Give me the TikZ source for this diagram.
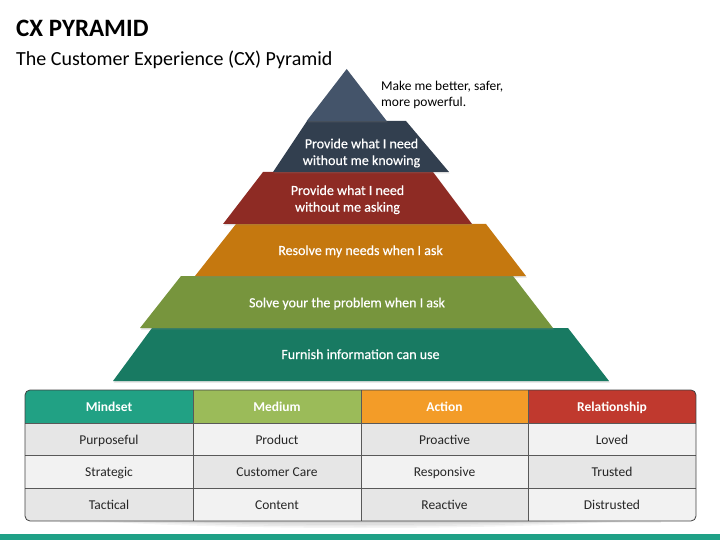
\documentclass[tikz,border=0pt]{standalone}
\usepackage{fontspec}
\setmainfont{Carlito}
\newfontfamily\layfont[FakeBold=0.4]{Carlito}
\usetikzlibrary{shadows}
\definecolor{ctop}{HTML}{44546A}
\definecolor{cnavy}{HTML}{323F4F}
\definecolor{cred}{HTML}{8E2B24}
\definecolor{corange}{HTML}{C5780F}
\definecolor{cgreen}{HTML}{77953D}
\definecolor{cteal}{HTML}{187A62}
\definecolor{hmind}{HTML}{21A184}
\definecolor{hmed}{HTML}{9BBB59}
\definecolor{hact}{HTML}{F39C28}
\definecolor{hrel}{HTML}{C0392E}
\definecolor{cdark}{HTML}{E6E6E6}
\definecolor{clight}{HTML}{F2F2F2}
\definecolor{cbar}{HTML}{1FA187}
\tikzset{
  layer/.style={draw=none, drop shadow={opacity=0.25, shadow xshift=0.8pt, shadow yshift=-1.5pt}},
  laytext/.style={text=white, font=\layfont\fontsize{14}{16.7}\selectfont, align=center, inner sep=0pt, anchor=base},
  celltext/.style={text=black!85, font=\fontsize{13.5}{16}\selectfont, inner sep=0pt, anchor=base},
  headtext/.style={text=white, font=\bfseries\fontsize{13.5}{16}\selectfont, inner sep=0pt, anchor=base},
  gridline/.style={draw=black!65, line width=0.6pt},
  tshadow/.style={fill=black, opacity=0.045},
}
\begin{document}
\begin{tikzpicture}[x=1pt,y=-1pt]
\useasboundingbox (0,0) rectangle (720,540);
% titles
\node[anchor=base west, inner sep=0pt, font=\bfseries\fontsize{25}{28}\selectfont] (title) at (16,36.5) {CX PYRAMID};
\node[anchor=base west, inner sep=0pt, font=\fontsize{20}{24}\selectfont] (subtitle) at (16,66) {The Customer Experience (CX) Pyramid};
% pyramid layers (bottom first so upper layers overlap)
\fill[cteal, layer] (152,328) -- (568,328) -- (609,381) -- (113,381) -- cycle;
\fill[cgreen, layer] (181,276) -- (513,276) -- (553,328) -- (140,328) -- cycle;
\fill[corange, layer] (236,224) -- (486,224) -- (526,276) -- (195,276) -- cycle;
\fill[cred, layer] (263,172) -- (433,172) -- (472,224) -- (223,224) -- cycle;
\fill[cnavy, layer] (307,121) -- (406,121) -- (449,172) -- (273,172) -- cycle;
\fill[ctop, layer] (346.7,69) -- (386.7,121) -- (306.7,121) -- cycle;
% layer texts
\node[laytext] (l6) at (360.5,359) {Furnish information can use};
\node[laytext] (l5) at (347,307.3) {Solve your the problem when I ask};
\node[laytext] (l4) at (360.5,255) {Resolve my needs when I ask};
\node[laytext] (l3) at (347.5,211.7) {Provide what I need\\without me asking};
\node[laytext] (l2) at (361.5,165) {Provide what I need\\without me knowing};
\node[anchor=base west, inner sep=0pt, align=left, font=\fontsize{13.5}{16}\selectfont] (l1) at (381,106.7) {Make me better, safer,\\more powerful.};
% table shadow
\fill[tshadow] (70,519) .. controls (200,531) and (520,531) .. (651,519) -- cycle;
\fill[tshadow] (90,519) .. controls (220,529) and (500,529) .. (631,519) -- cycle;
\fill[tshadow] (120,519) .. controls (250,527) and (470,527) .. (601,519) -- cycle;
\fill[tshadow] (60,519) rectangle (661,523);
% table cells
\begin{scope}
\clip[rounded corners=5pt] (25,390) rectangle (696,521);
\fill[hmind] (25,390) rectangle (193,423);
\fill[hmed] (193,390) rectangle (361,423);
\fill[hact] (361,390) rectangle (528,423);
\fill[hrel] (528,390) rectangle (696,423);
\fill[cdark] (25,423) rectangle (193,455);
\fill[clight] (193,423) rectangle (361,455);
\fill[cdark] (361,423) rectangle (528,455);
\fill[clight] (528,423) rectangle (696,455);
\fill[clight] (25,455) rectangle (193,488);
\fill[cdark] (193,455) rectangle (361,488);
\fill[clight] (361,455) rectangle (528,488);
\fill[cdark] (528,455) rectangle (696,488);
\fill[cdark] (25,488) rectangle (193,521);
\fill[clight] (193,488) rectangle (361,521);
\fill[cdark] (361,488) rectangle (528,521);
\fill[clight] (528,488) rectangle (696,521);
\end{scope}
\foreach \xx in {193,361,528} \draw[gridline] (\xx,390) -- (\xx,521);
\foreach \yy in {423,455,488} \draw[gridline] (25,\yy) -- (696,\yy);
\draw[draw=black!75, line width=0.8pt, rounded corners=5pt] (25,390) rectangle (696,521);
% header texts
\node[headtext] (h1) at (109,411) {Mindset};
\node[headtext] (h2) at (277,411) {Medium};
\node[headtext] (h3) at (444.5,411) {Action};
\node[headtext] (h4) at (612,411) {Relationship};
% body texts
\node[celltext] (a1) at (109,444) {Purposeful};
\node[celltext] (a2) at (277,444) {Product};
\node[celltext] (a3) at (444.5,444) {Proactive};
\node[celltext] (a4) at (612,444) {Loved};
\node[celltext] (b1) at (109,476.5) {Strategic};
\node[celltext] (b2) at (277,476.5) {Customer Care};
\node[celltext] (b3) at (444.5,476.5) {Responsive};
\node[celltext] (b4) at (612,476.5) {Trusted};
\node[celltext] (c1) at (109,509.3) {Tactical};
\node[celltext] (c2) at (277,509.3) {Content};
\node[celltext] (c3) at (444.5,509.3) {Reactive};
\node[celltext] (c4) at (612,509.3) {Distrusted};
% bottom bar
\fill[cbar] (0,534) rectangle (720,540);
\end{tikzpicture}
\end{document}
